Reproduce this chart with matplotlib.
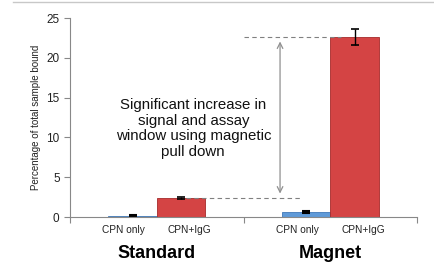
import numpy as np
import matplotlib.pyplot as plt

plt.rcParams['font.family'] = ['Liberation Sans', 'DejaVu Sans']

groups = ['Standard', 'Magnet']
conditions = ['CPN only', 'CPN+IgG']
cpn_only = [0.15, 0.6]
cpn_igg = [2.4, 22.6]
cpn_only_err = [0.05, 0.1]
cpn_igg_err = [0.12, 1.0]

fig = plt.figure(figsize=(4.35, 2.65), dpi=100)
ax = fig.add_axes([0.161, 0.181, 0.798, 0.751])

x = np.arange(len(groups))
w = 0.28
ax.bar(x - w / 2, cpn_only, w, color='#5f9ad8', edgecolor='#3f78b8', linewidth=0.6)
ax.bar(x + w / 2, cpn_igg, w, color='#d44444', edgecolor='#a52a2a', linewidth=0.6)
ax.errorbar(x - w / 2, cpn_only, yerr=cpn_only_err, fmt='none', ecolor='black',
            capsize=3, elinewidth=1, capthick=1.5)
ax.errorbar(x + w / 2, cpn_igg, yerr=cpn_igg_err, fmt='none', ecolor='black',
            capsize=3, elinewidth=1, capthick=1.2)

# dashed guide lines and arrow
ax.plot([0.17, 0.83], [cpn_igg[0], cpn_igg[0]], ls='--', color='#808080', lw=0.8, dashes=(4, 3))
ax.plot([0.5, 1.06], [cpn_igg[1], cpn_igg[1]], ls='--', color='#808080', lw=0.8, dashes=(4, 3))
ax.annotate('', xy=(0.71, cpn_igg[1] - 0.2), xytext=(0.71, cpn_igg[0] + 0.2),
            arrowprops=dict(arrowstyle='<->', color='#909090', lw=0.9))
ax.text(0.21, 11.1, 'Significant increase in\nsignal and assay\nwindow using magnetic\npull down',
        ha='center', va='center', fontsize=10.8, linespacing=1.15, color='#111111')

ax.set_xlim(-0.5, 1.5)
ax.set_ylim(0, 25)
ax.set_yticks(range(0, 26, 5))
ax.set_xticks([-0.5, 0.5, 1.5])
ax.set_xticklabels([])
ax.tick_params(axis='both', colors='#888888', length=4, width=0.8)
ax.tick_params(axis='y', labelcolor='#222222', labelsize=8.5)
ax.set_ylabel('Percentage of total sample bound', fontsize=7, color='#222222')
for s in ['top', 'right']:
    ax.spines[s].set_visible(False)
for s in ['left', 'bottom']:
    ax.spines[s].set_color('#888888')
    ax.spines[s].set_linewidth(0.8)

for i, g in enumerate(groups):
    for j, c in enumerate(conditions):
        ax.text(x[i] + (j - 0.5) * 0.38, -0.95, c, ha='center', va='top', fontsize=7.3, color='#222222')
    ax.text(x[i], -3.5, g, ha='center', va='top', fontsize=13, fontweight='bold')

fig.add_artist(plt.Line2D([0.03, 1.0], [0.993, 0.993], color='#c8c8c8', lw=1))

fig.savefig('out.png', dpi=100)
